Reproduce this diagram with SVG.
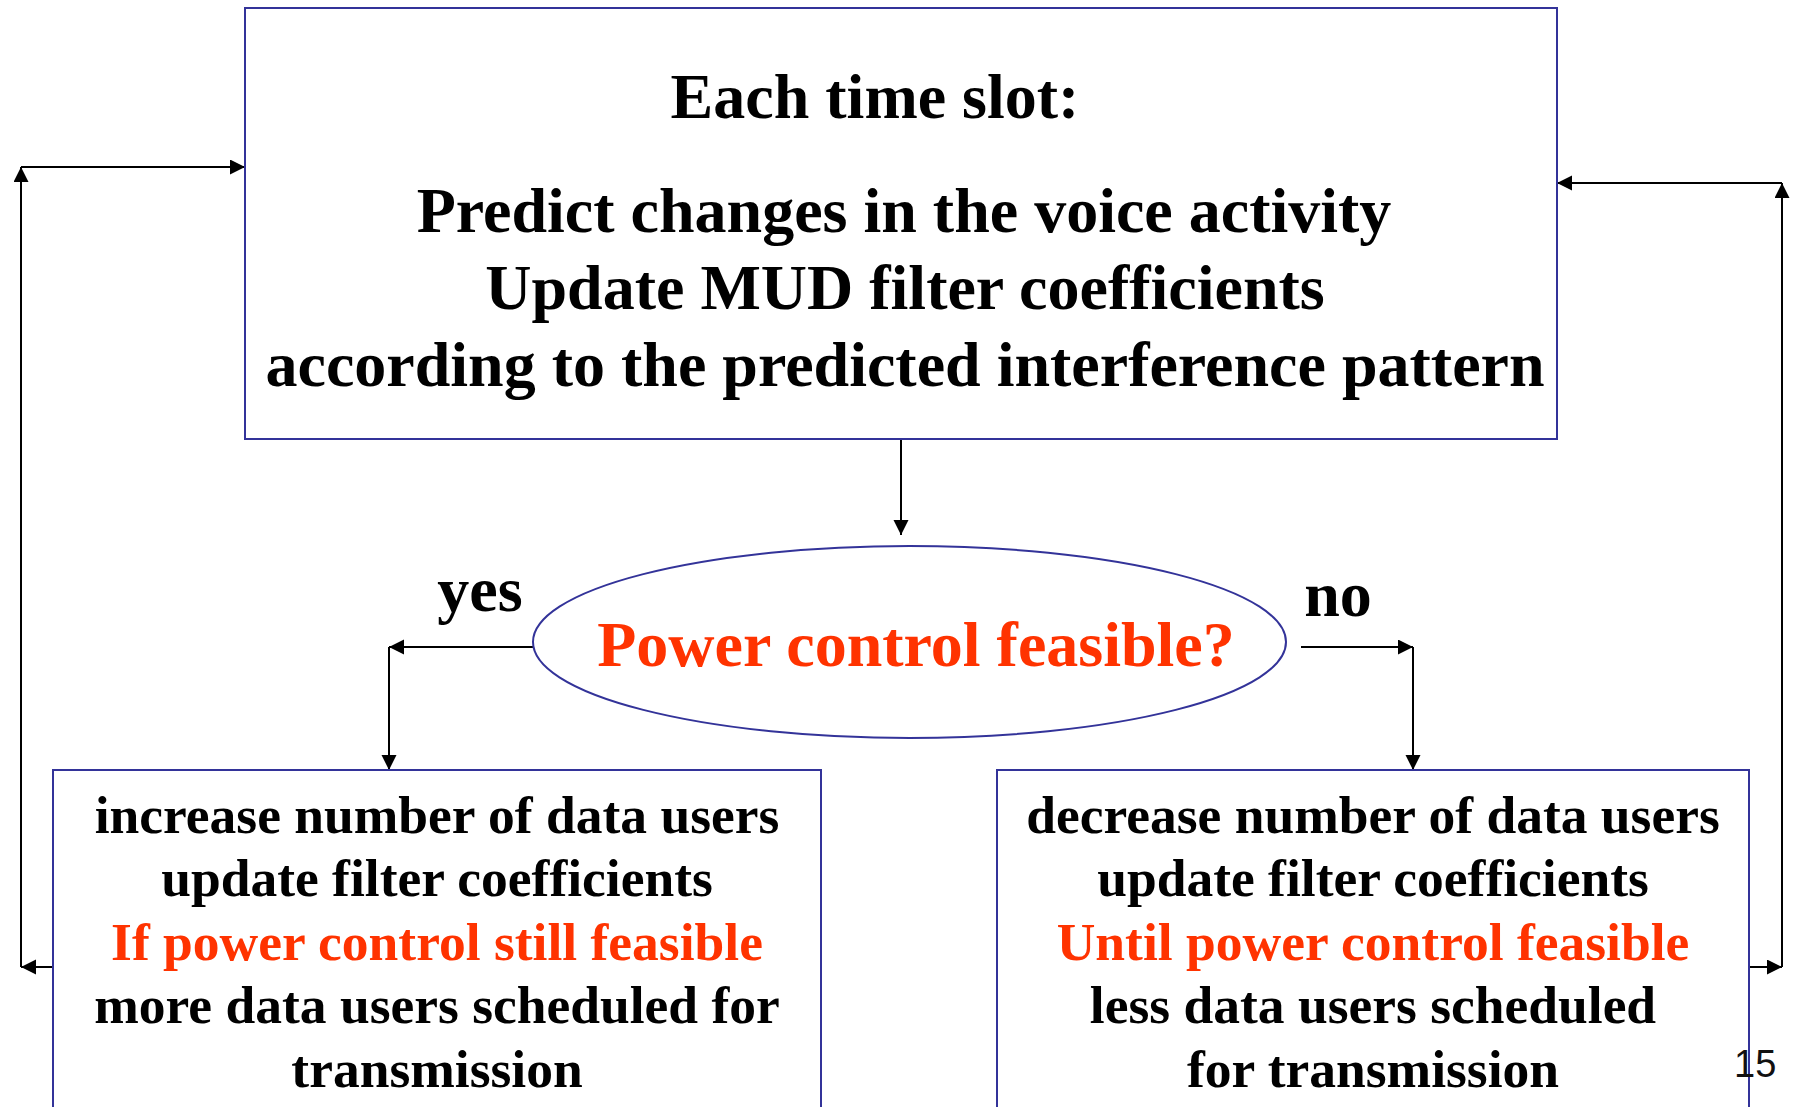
<svg xmlns="http://www.w3.org/2000/svg" width="1795" height="1107" viewBox="0 0 1795 1107">
<defs>
<style>
.box{fill:#fff;stroke:#333399;stroke-width:2}
.t{font-family:"Liberation Serif","Times New Roman",serif;font-weight:bold;fill:#000;text-anchor:middle}
.big{font-size:64px}
.sm{font-size:53.5px}
.red{fill:#ff3300}
.c{fill:none;stroke:#000;stroke-width:2;marker-end:url(#ah)}
</style>
<marker id="ah" markerUnits="userSpaceOnUse" markerWidth="16" markerHeight="16" refX="15" refY="7.5" orient="auto" viewBox="0 0 16 16">
<path d="M0,0 L15,7.5 L0,15 Z" fill="#000"/>
</marker>
</defs>
<rect width="1795" height="1107" fill="#fff"/>
<g id="connectors">
<line class="c" x1="901" y1="439" x2="901" y2="535"/>
<line class="c" x1="533" y1="647" x2="389" y2="647"/>
<line class="c" x1="389" y1="647" x2="389" y2="770"/>
<line class="c" x1="1301" y1="647" x2="1413" y2="647"/>
<line class="c" x1="1413" y1="647" x2="1413" y2="770"/>
<line class="c" x1="53" y1="967" x2="21" y2="967"/>
<line class="c" x1="21" y1="967" x2="21" y2="167"/>
<line class="c" x1="21" y1="167" x2="245" y2="167"/>
<line class="c" x1="1749" y1="967" x2="1782" y2="967"/>
<line class="c" x1="1782" y1="967" x2="1782" y2="183"/>
<line class="c" x1="1782" y1="183" x2="1557" y2="183"/>
</g>
<g id="top-box">
<rect class="box" x="245" y="8" width="1312" height="431"/>
<text class="t big" x="875" y="118">Each time slot:</text>
<text class="t big" x="904" y="232">Predict changes in the voice activity</text>
<text class="t big" x="905" y="309">Update MUD filter coefficients</text>
<text class="t big" x="905" y="386">according to the predicted interference pattern</text>
</g>
<g id="decision">
<ellipse cx="909.5" cy="642" rx="376.5" ry="96" fill="#fff" stroke="#333399" stroke-width="2"/>
<text class="t big red" x="916" y="666">Power control feasible?</text>
</g>
<g id="label-yes">
<text class="t big" x="480" y="611">yes</text>
</g>
<g id="label-no">
<text class="t big" x="1338" y="616">no</text>
</g>
<g id="left-box">
<rect class="box" x="53" y="770" width="768" height="360"/>
<text class="t sm" x="437" y="833">increase number of data users</text>
<text class="t sm" x="437" y="896">update filter coefficients</text>
<text class="t sm red" x="437" y="960">If power control still feasible</text>
<text class="t sm" x="437" y="1023">more data users scheduled for</text>
<text class="t sm" x="437" y="1087">transmission</text>
</g>
<g id="right-box">
<rect class="box" x="997" y="770" width="752" height="360"/>
<text class="t sm" x="1373" y="833">decrease number of data users</text>
<text class="t sm" x="1373" y="896">update filter coefficients</text>
<text class="t sm red" x="1373" y="960">Until power control feasible</text>
<text class="t sm" x="1373" y="1023">less data users scheduled</text>
<text class="t sm" x="1373" y="1087">for transmission</text>
</g>
<text x="1734" y="1077" font-family="Liberation Sans, Arial, sans-serif" font-size="38" fill="#111">15</text>
</svg>
